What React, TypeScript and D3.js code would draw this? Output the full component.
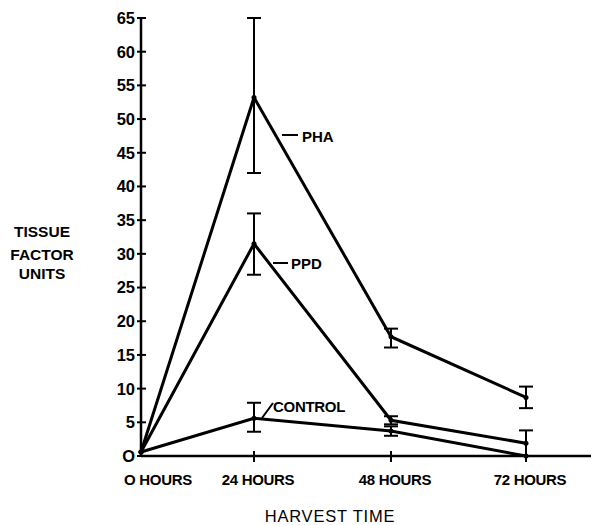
import { useEffect } from "react";
import * as d3 from "d3";

const hours = [0, 24, 48, 72];
const hourLabels = ["O HOURS", "24 HOURS", "48 HOURS", "72 HOURS"];
const yTicks = [0, 5, 10, 15, 20, 25, 30, 35, 40, 45, 50, 55, 60, 65];

const phaMean = [0.6, 53.2, 17.7, 8.7];
const phaLow = [0.6, 42, 16.1, 7.1];
const phaHigh = [0.6, 65, 18.9, 10.3];

const ppdMean = [0.6, 31.5, 5.3, 1.9];
const ppdLow = [0.6, 26.9, 4.7, 0];
const ppdHigh = [0.6, 36, 5.9, 3.8];

const ctlMean = [0.6, 5.6, 3.7, 0];
const ctlLow = [0.6, 3.6, 3.0, 0];
const ctlHigh = [0.6, 7.9, 4.4, 0];

const W = 591, H = 525;
const FONT = "'Liberation Sans', Arial, sans-serif";

export default function App() {
  useEffect(() => {
    document.body.style.margin = "0";
  }, []);

  // the printed axis spaces 0→24 tighter than the other intervals
  const x = d3.scaleLinear().domain([0, 24, 48, 72]).range([141, 254, 391, 526]);
  const y = d3.scaleLinear().domain([0, 65]).range([456, 18]);
  const line = d3.line<number>().x((_, i) => x(hours[i])).y((d) => y(d));

  const series = [
    { name: "PHA", mean: phaMean, low: phaLow, high: phaHigh },
    { name: "PPD", mean: ppdMean, low: ppdLow, high: ppdHigh },
    { name: "CONTROL", mean: ctlMean, low: ctlLow, high: ctlHigh },
  ];

  return (
    <svg width={W} height={H} style={{ display: "block", background: "#fff" }}>
      {/* y axis */}
      <line x1={x(0)} x2={x(0)} y1={y(0)} y2={y(65)} stroke="#000" strokeWidth={2.5} />
      {yTicks.map((t) => (
        <g key={t}>
          <line x1={x(0) - 4} x2={x(0) + 5} y1={y(t)} y2={y(t)} stroke="#000" strokeWidth={2} />
          <text x={x(0) - 6} y={y(t)} dy="0.36em" textAnchor="end" fontFamily={FONT}
            fontWeight="bold" fontSize={16.5}>{t === 0 ? "O" : t}</text>
        </g>
      ))}

      {/* x axis */}
      <line x1={x(0)} x2={W} y1={y(0)} y2={y(0)} stroke="#000" strokeWidth={2.5} />
      {hours.map((h, i) => (
        <g key={h}>
          {i > 0 && <line x1={x(h)} x2={x(h)} y1={y(0) - 5} y2={y(0) + 6} stroke="#000" strokeWidth={2} />}
          <text x={x(h) + (i === 0 ? 17 : 4)} y={485} textAnchor="middle" fontFamily={FONT}
            fontWeight="bold" fontSize={15} letterSpacing={-0.3}>{hourLabels[i]}</text>
        </g>
      ))}

      {/* axis titles */}
      <text x={330} y={522} textAnchor="middle" fontFamily={FONT} fontSize={16.5}
        letterSpacing={0.8}>HARVEST TIME</text>
      <g fontFamily={FONT} fontWeight="bold" fontSize={15.5} textAnchor="middle">
        <text x={42} y={237}>TISSUE</text>
        <text x={42} y={260}>FACTOR</text>
        <text x={42} y={279}>UNITS</text>
      </g>

      {/* series */}
      {series.map((s) => (
        <g key={s.name}>
          <path d={line(s.mean) ?? ""} fill="none" stroke="#000" strokeWidth={3}
            strokeLinejoin="miter" />
          {s.mean.map((m, i) =>
            i === 0 || s.high[i] - s.low[i] < 0.1 ? null : (
              <g key={i} stroke="#000" strokeWidth={2}>
                <line x1={x(hours[i])} x2={x(hours[i])} y1={y(s.low[i])} y2={y(s.high[i])} />
                <line x1={x(hours[i]) - 7} x2={x(hours[i]) + 7} y1={y(s.low[i])} y2={y(s.low[i])} />
                <line x1={x(hours[i]) - 7} x2={x(hours[i]) + 7} y1={y(s.high[i])} y2={y(s.high[i])} />
              </g>
            )
          )}
          {s.mean.map((m, i) => (
            <circle key={"p" + i} cx={x(hours[i])} cy={y(m)} r={2.5} fill="#000" />
          ))}
        </g>
      ))}

      {/* series labels */}
      <g fontFamily={FONT} fontWeight="bold" fontSize={15}>
        <line x1={282} x2={298} y1={135} y2={135} stroke="#000" strokeWidth={2} />
        <text x={302} y={142}>PHA</text>
        <line x1={273} x2={288} y1={263} y2={263} stroke="#000" strokeWidth={2} />
        <text x={291} y={269}>PPD</text>
        <line x1={262} x2={273} y1={418} y2={403} stroke="#000" strokeWidth={2} />
        <text x={273} y={412} letterSpacing={-0.3}>CONTROL</text>
      </g>
    </svg>
  );
}
